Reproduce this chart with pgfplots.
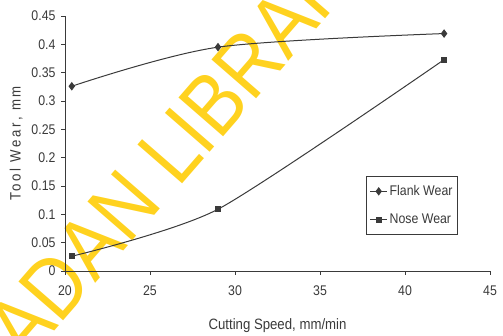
\documentclass[border=0pt]{standalone}
\usepackage{pgfplots}
\pgfplotsset{compat=1.18}
\usepackage{fontspec}
\setmainfont{Liberation Sans}[FakeStretch=0.88]
\definecolor{ink}{HTML}{3A3A3A}
\definecolor{wm}{HTML}{FFD21F}
\begin{document}
\begin{tikzpicture}[x=1pt,y=1pt]
\useasboundingbox (0,0) rectangle (503,336);
\node[overlay,rotate=49,text=wm,font=\fontsize{86}{86}\selectfont,anchor=west,inner sep=0pt] at (4,-8) {ADAN LIBRARY};
\begin{axis}[
  at={(65pt,65pt)}, anchor=south west,
  scale only axis, width=425pt, height=255pt,
  xmin=20, xmax=45, ymin=0, ymax=0.45,
  xtick={20,25,...,45},
  ytick={0,0.05,...,0.45},
  yticklabels={0,0.05,0.1,0.15,0.2,0.25,0.3,0.35,0.4,0.45},
  axis x line=bottom, axis y line=left,
  axis line style={ink,line width=0.9pt,-},
  tick style={ink,line width=0.8pt},
  tick align=outside, major tick length=4pt,
  /pgf/number format/assume math mode=true,
  ticklabel style={font=\fontsize{14}{14}\selectfont, text=ink},
  xticklabel style={yshift=-7pt},
  yticklabel style={xshift=-2pt},
  xlabel={Cutting Speed, mm/min},
  ylabel={\addfontfeatures{LetterSpace=18}Tool Wear, mm},
  label style={font=\fontsize{15}{15}\selectfont, text=ink},
  xlabel style={yshift=-16pt},
  ylabel style={yshift=2pt},
  legend style={at={(0.709,0.372)}, anchor=north west, draw=ink, line width=0.8pt,
    font=\fontsize{14}{14}\selectfont, text=ink, inner xsep=3pt, inner ysep=7pt,
    row sep=13pt, legend cell align=left},
  legend image post style={line width=0.9pt},
]
\addplot[ink, line width=1pt, smooth, tension=0.5, mark=diamond*, mark size=3.5pt,
  mark options={fill=ink, solid}] coordinates {(20.4,0.326) (29.0,0.395) (42.3,0.419)};
\addlegendentry{Flank Wear}
\addplot[ink, line width=1pt, smooth, tension=0.4, mark=square*, mark size=2.5pt,
  mark options={fill=ink, solid}] coordinates {(20.4,0.026) (29.0,0.109) (42.3,0.373)};
\addlegendentry{Nose Wear}
\end{axis}
\end{tikzpicture}
\end{document}
